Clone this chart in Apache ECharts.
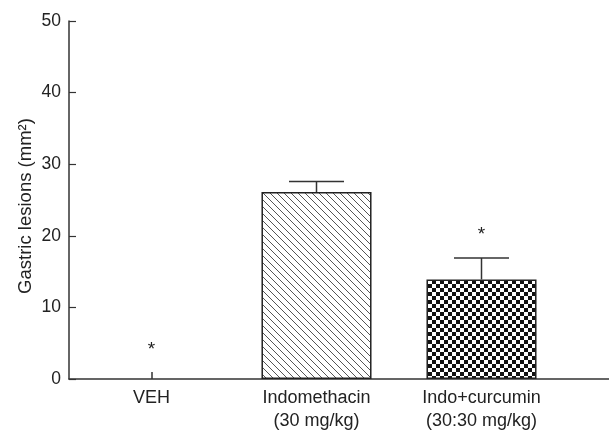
<!DOCTYPE html>
<html>
<head>
<meta charset="utf-8">
<script src="https://cdn.jsdelivr.net/npm/echarts@6/dist/echarts.min.js"></script>
<style>
html,body{margin:0;padding:0;background:#fff;}
#chart{width:609px;height:430px;}
</style>
</head>
<body>
<div id="chart"></div>
<script>
// ---- data ----
var categories = ['VEH', 'Indomethacin\n(30 mg/kg)', 'Indo+curcumin\n(30:30 mg/kg)', ''];
var means = [0, 26.1, 13.9];
var errors = [0, 1.5, 3.0];
var asteriskY = [4.1, null, 20.1];
var yTicks = { min: 0, max: 50, interval: 10 };
var yName = 'Gastric lesions (mm²)';

// ---- patterns ----
function hatchPattern() {
  var s = 7;
  var c = document.createElement('canvas');
  c.width = s; c.height = s;
  var g = c.getContext('2d');
  g.fillStyle = '#fff'; g.fillRect(0, 0, s, s);
  g.strokeStyle = '#555'; g.lineWidth = 1;
  [-s, 0, s].forEach(function (k) {
    g.beginPath(); g.moveTo(k - 1, -1); g.lineTo(k + s + 1, s + 1); g.stroke();
  });
  return c;
}
function checkerPattern() {
  var q = 4;
  var c = document.createElement('canvas');
  c.width = q * 2; c.height = q * 2;
  var g = c.getContext('2d');
  g.fillStyle = '#fff'; g.fillRect(0, 0, q * 2, q * 2);
  g.fillStyle = '#111';
  g.fillRect(0, 0, q, q); g.fillRect(q, q, q, q);
  return c;
}
var fills = [
  '#fff',
  { image: hatchPattern(), repeat: 'repeat' },
  { image: checkerPattern(), repeat: 'repeat' }
];

var font = 'Liberation Sans';
var chart = echarts.init(document.getElementById('chart'), null, { renderer: 'canvas' });

var barData = means.map(function (v, i) {
  return { value: v, itemStyle: { color: fills[i], borderWidth: v ? 1.5 : 0 } };
});
var errData = means.map(function (v, i) { return [i, v, errors[i]]; });
var starData = [];
asteriskY.forEach(function (v, i) { if (v != null) starData.push([i, v]); });

chart.setOption({
  animation: false,
  backgroundColor: '#fff',
  grid: { left: 69, top: 21, bottom: 51, width: 660, outerBoundsMode: 'none', containLabel: false },
  xAxis: {
    type: 'category',
    data: categories,
    boundaryGap: true,
    axisLine: { lineStyle: { color: '#333', width: 1.5 } },
    axisTick: { show: true, inside: true, alignWithLabel: true, length: 7, lineStyle: { color: '#333', width: 1.5 },
                interval: 0 },
    axisLabel: { color: '#222', fontFamily: font, fontSize: 18, lineHeight: 23, margin: 8, interval: 0 },
    splitLine: { show: false }
  },
  yAxis: {
    type: 'value',
    min: yTicks.min, max: yTicks.max, interval: yTicks.interval,
    name: yName,
    nameLocation: 'middle',
    nameGap: 34,
    nameMoveOverlap: false,
    nameTextStyle: { color: '#222', fontFamily: font, fontSize: 18.5, padding: [0, 12, 0, 0] },
    axisLine: { show: true, lineStyle: { color: '#333', width: 1.5 } },
    axisTick: { show: true, inside: true, length: 7, lineStyle: { color: '#333', width: 1.2 } },
    axisLabel: { color: '#222', fontFamily: font, fontSize: 17.5, margin: 8 },
    splitLine: { show: false }
  },
  series: [
    {
      type: 'bar',
      data: barData,
      barWidth: '66.7%',
      itemStyle: { borderColor: '#222', borderWidth: 1.5 },
      z: 2
    },
    {
      type: 'custom',
      data: errData,
      z: 3,
      renderItem: function (params, api) {
        var idx = api.value(0), m = api.value(1), e = api.value(2);
        if (!e) return null;
        var base = api.coord([idx, m]);
        var top = api.coord([idx, m + e]);
        var half = 27.5;
        var st = { stroke: '#333', lineWidth: 1.5 };
        return {
          type: 'group',
          children: [
            { type: 'line', shape: { x1: base[0], y1: base[1], x2: top[0], y2: top[1] }, style: st },
            { type: 'line', shape: { x1: top[0] - half, y1: top[1], x2: top[0] + half, y2: top[1] }, style: st }
          ]
        };
      }
    },
    {
      type: 'custom',
      data: starData,
      z: 4,
      renderItem: function (params, api) {
        var p = api.coord([api.value(0), api.value(1)]);
        return {
          type: 'text',
          x: p[0], y: p[1],
          style: { text: '*', fill: '#222', font: '19px "Liberation Sans"', align: 'center', verticalAlign: 'middle' }
        };
      }
    }
  ]
});
</script>
</body>
</html>
